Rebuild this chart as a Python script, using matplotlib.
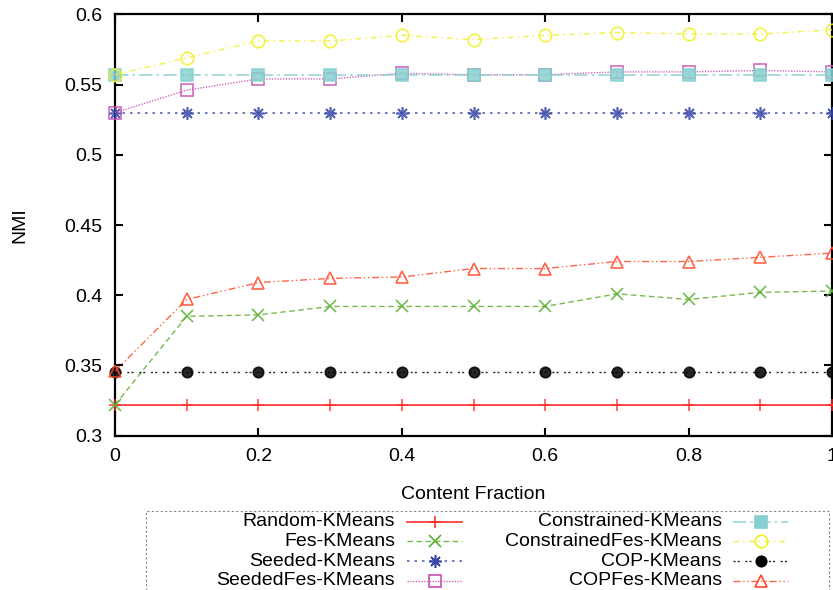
import matplotlib
matplotlib.use("Agg")
import matplotlib.pyplot as plt
from matplotlib.lines import Line2D
from matplotlib.patches import Rectangle

plt.rcParams['font.family'] = ['Liberation Sans', 'DejaVu Sans']

frac = [0.0, 0.1, 0.2, 0.3, 0.4, 0.5, 0.6, 0.7, 0.8, 0.9, 1.0]

random_km = [0.322] * 11
fes_km = [0.322, 0.385, 0.386, 0.392, 0.392, 0.392, 0.392, 0.401, 0.397, 0.402, 0.403]
seeded_km = [0.530] * 11
seededfes_km = [0.530, 0.546, 0.554, 0.554, 0.558, 0.557, 0.557, 0.559, 0.559, 0.560, 0.559]
constrained_km = [0.557] * 11
constrainedfes_km = [0.557, 0.569, 0.581, 0.581, 0.585, 0.582, 0.585, 0.587, 0.586, 0.586, 0.589]
cop_km = [0.345] * 11
copfes_km = [0.346, 0.397, 0.409, 0.412, 0.413, 0.419, 0.419, 0.424, 0.424, 0.427, 0.430]

names = ['Random-KMeans', 'Fes-KMeans', 'Seeded-KMeans', 'SeededFes-KMeans',
         'Constrained-KMeans', 'ConstrainedFes-KMeans', 'COP-KMeans', 'COPFes-KMeans']
series = [random_km, fes_km, seeded_km, seededfes_km,
          constrained_km, constrainedfes_km, cop_km, copfes_km]

# gnuplot-ish line types: colour, dash pattern, marker, filled, marker size
styles = [
    dict(color='#ff3030', ls='-', lw=1.4, marker='+', fill=True, ms=9),
    dict(color='#5cb030', ls=(0, (4, 2.5)), lw=1.0, marker='x', fill=True, ms=8),
    dict(color='#3848a8', ls=(0, (1.5, 3)), lw=1.2, marker=(8, 2, 0), fill=True, ms=9),
    dict(color='#c850b0', ls=(0, (1, 1)), lw=1.0, marker='s', fill=False, ms=8),
    dict(color='#88d0d0', ls=(0, (8, 2.5, 1.5, 2.5)), lw=1.2, marker='s', fill=True, ms=8.5),
    dict(color='#f0f020', ls=(0, (4, 3, 1, 3)), lw=1.0, marker='o', fill=False, ms=9),
    dict(color='#000000', ls=(0, (1.5, 1.5, 1.5, 4)), lw=1.0, marker='o', fill=True, ms=7.5),
    dict(color='#ff4828', ls=(0, (5, 2, 1, 2, 1, 2)), lw=1.0, marker='^', fill=False, ms=9),
]

FS = 14

W, H = 833, 590
fig = plt.figure(figsize=(W / 100, H / 100), dpi=100)
ax = fig.add_axes([115 / W, 1 - 435.7 / H, 717 / W, 421.4 / H])

for vals, st in zip(series, styles):
    ax.plot(frac, vals, color=st['color'], ls=st['ls'], lw=st['lw'], alpha=0.85,
            marker=st['marker'], ms=st['ms'], mew=1.2, mec=st['color'],
            mfc=st['color'] if st['fill'] else 'none', clip_on=False, zorder=3)

ax.set_xlim(0, 1)
ax.set_ylim(0.3, 0.6)
ax.set_xticks([0, 0.2, 0.4, 0.6, 0.8, 1.0])
ax.set_xticklabels(['0', '0.2', '0.4', '0.6', '0.8', '1'])
ax.set_yticks([0.3, 0.35, 0.4, 0.45, 0.5, 0.55, 0.6])
ax.set_yticklabels(['0.3', '0.35', '0.4', '0.45', '0.5', '0.55', '0.6'])
ax.tick_params(direction='in', length=6, width=1.5, labelsize=FS, pad=9,
               top=True, right=True)
for sp in ax.spines.values():
    sp.set_linewidth(1.6)
ax.set_xlabel('Content Fraction', fontsize=FS)
ax.set_ylabel('NMI', fontsize=FS)
ax.xaxis.set_label_coords(0.5, -0.119)
ax.yaxis.set_label_coords(-0.121, 0.5)


# key box below the axes, text right-justified before each sample
def fx(x):
    return x / W


def fy(y):
    return 1 - y / H


fig.patches.append(Rectangle((fx(146), fy(620)), fx(829) - fx(146), fy(511) - fy(620),
                             transform=fig.transFigure, fill=False, ec='#888888',
                             lw=0.8, ls=(0, (2, 2))))
rows = [522, 541.3, 561, 580.5]
text_right = [395, 722]
sample = [(407, 462), (733, 788)]
for i, (name, st) in enumerate(zip(names, styles)):
    col, row = divmod(i, 4)
    y = rows[row]
    fig.text(fx(text_right[col]), fy(y), name, ha='right', va='center', fontsize=FS)
    x0, x1 = sample[col]
    fig.lines.append(Line2D([fx(x0), fx(x1)], [fy(y), fy(y)], transform=fig.transFigure,
                            color=st['color'], ls=st['ls'], lw=st['lw'], alpha=0.85))
    fig.lines.append(Line2D([fx((x0 + x1) / 2)], [fy(y)], transform=fig.transFigure,
                            color=st['color'], ls='none', marker=st['marker'], ms=st['ms'],
                            mew=1.2, mec=st['color'],
                            mfc=st['color'] if st['fill'] else 'none'))

fig.savefig('out.png', dpi=100)
